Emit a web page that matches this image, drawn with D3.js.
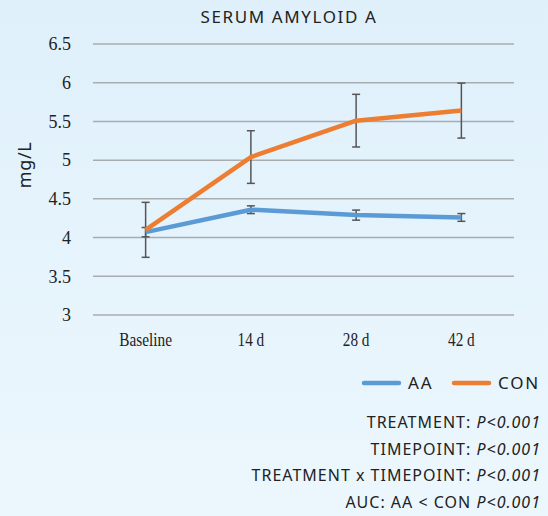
<!DOCTYPE html>
<html>
<head>
<meta charset="utf-8">
<script src="https://cdn.jsdelivr.net/npm/d3@7"></script>
<style>
  body { margin: 0; }
  svg { display: block; }
</style>
</head>
<body>
<div id="chart"></div>
<script>
var width = 548,
    height = 516;

// data
const categories = ["Baseline", "14 d", "28 d", "42 d"];
const aaMean = [4.07, 4.36, 4.29, 4.26];
const aaErr = [0.06, 0.05, 0.065, 0.05];
const conMean = [4.1, 5.04, 5.51, 5.64];
const conErr = [0.355, 0.34, 0.34, 0.355];
const yTicks = [3, 3.5, 4, 4.5, 5, 5.5, 6, 6.5];
const statLines = [
    ["TREATMENT: ", "P<0.001"],
    ["TIMEPOINT: ", "P<0.001"],
    ["TREATMENT x TIMEPOINT: ", "P<0.001"],
    ["AUC: AA < CON ", "P<0.001"]
];

const series = [
    { name: "AA", mean: aaMean, err: aaErr, color: "#5b9bd5" },
    { name: "CON", mean: conMean, err: conErr, color: "#ed7d31" }
];

var margin = { left: 93, right: 34, top: 44, bottom: 201 };
var sans = "'Noto Sans', 'Open Sans', sans-serif";

var svg = d3.select("#chart")
    .append("svg")
    .attr("width", width)
    .attr("height", height);

// background gradient
var grad = svg.append("defs").append("linearGradient")
    .attr("id", "bg")
    .attr("x1", 0).attr("y1", 0).attr("x2", 0).attr("y2", 1);
grad.append("stop").attr("offset", "0%").attr("stop-color", "#dff0fb");
grad.append("stop").attr("offset", "100%").attr("stop-color", "#ecf7fd");

svg.append("rect")
    .attr("width", width)
    .attr("height", height)
    .attr("fill", "url(#bg)");

var x = d3.scaleBand()
    .domain(categories)
    .range([margin.left, width - margin.right]);

var y = d3.scaleLinear()
    .domain([3, 6.5])
    .range([height - margin.bottom, margin.top]);

// title
svg.append("text")
    .attr("x", 289)
    .attr("y", 23)
    .attr("text-anchor", "middle")
    .attr("font-family", sans)
    .attr("font-size", "17px")
    .attr("letter-spacing", "1.6px")
    .attr("fill", "#222")
    .text("SERUM AMYLOID A");

// gridlines
svg.append("g")
    .selectAll("line")
    .data(yTicks)
    .join("line")
    .attr("x1", margin.left)
    .attr("x2", width - margin.right)
    .attr("y1", d => y(d))
    .attr("y2", d => y(d))
    .attr("stroke", "#a9adb0")
    .attr("stroke-width", 1.5);

// y axis labels
var yAxis = svg.append("g")
    .attr("transform", "translate(" + (margin.left - 19) + ",0)")
    .call(d3.axisLeft(y).tickValues(yTicks).tickSize(0).tickFormat(d3.format("")));
yAxis.select(".domain").remove();
yAxis.selectAll("text")
    .attr("font-family", "'Liberation Serif', serif")
    .attr("font-size", "18px")
    .attr("fill", "#222");

// x axis labels (slightly condensed serif)
var xAxis = svg.append("g")
    .attr("transform", "translate(0," + (height - margin.bottom + 15) + ")")
    .call(d3.axisBottom(x).tickSize(0));
xAxis.select(".domain").remove();
xAxis.selectAll(".tick text")
    .attr("font-family", "'Liberation Serif', serif")
    .attr("font-size", "18px")
    .attr("fill", "#222")
    .attr("transform", "scale(0.85,1)");

// y axis title
svg.append("text")
    .attr("transform", "translate(31,165) rotate(-90)")
    .attr("text-anchor", "middle")
    .attr("font-family", sans)
    .attr("font-size", "18px")
    .attr("letter-spacing", "0.6px")
    .attr("fill", "#222")
    .text("mg/L");

var cx = d => x(d) + x.bandwidth() / 2;

// error bars
series.forEach(function (s) {
    var g = svg.append("g")
        .attr("stroke", "#555")
        .attr("stroke-width", 1.5);
    categories.forEach(function (c, i) {
        var top = y(s.mean[i] + s.err[i]),
            bot = y(s.mean[i] - s.err[i]);
        g.append("line").attr("x1", cx(c)).attr("x2", cx(c)).attr("y1", top).attr("y2", bot);
        g.append("line").attr("x1", cx(c) - 4).attr("x2", cx(c) + 4).attr("y1", top).attr("y2", top);
        g.append("line").attr("x1", cx(c) - 4).attr("x2", cx(c) + 4).attr("y1", bot).attr("y2", bot);
    });
});

// lines
var line = d3.line()
    .x((d, i) => cx(categories[i]))
    .y(d => y(d));

series.forEach(function (s) {
    svg.append("path")
        .datum(s.mean)
        .attr("d", line)
        .attr("fill", "none")
        .attr("stroke", s.color)
        .attr("stroke-width", 4.5)
        .attr("stroke-linejoin", "round");
});

// legend
var legend = svg.append("g")
    .attr("font-family", sans)
    .attr("font-size", "17px")
    .attr("letter-spacing", "1.8px")
    .attr("fill", "#222");
var legendX = [364, 454];
series.forEach(function (s, i) {
    legend.append("line")
        .attr("x1", legendX[i])
        .attr("x2", legendX[i] + 35)
        .attr("y1", 383)
        .attr("y2", 383)
        .attr("stroke", s.color)
        .attr("stroke-width", 4.5)
        .attr("stroke-linecap", "round");
    legend.append("text")
        .attr("x", legendX[i] + 44)
        .attr("y", 389)
        .text(s.name);
});

// stats text
var stats = svg.append("g")
    .attr("font-family", sans)
    .attr("font-size", "16px")
    .attr("letter-spacing", "1px")
    .attr("fill", "#222")
    .attr("text-anchor", "end");
statLines.forEach(function (d, i) {
    var t = stats.append("text")
        .attr("x", 541)
        .attr("y", 428 + i * 26.7);
    t.append("tspan").text(d[0]);
    t.append("tspan").attr("font-style", "italic").text(d[1]);
});
</script>
</body>
</html>
